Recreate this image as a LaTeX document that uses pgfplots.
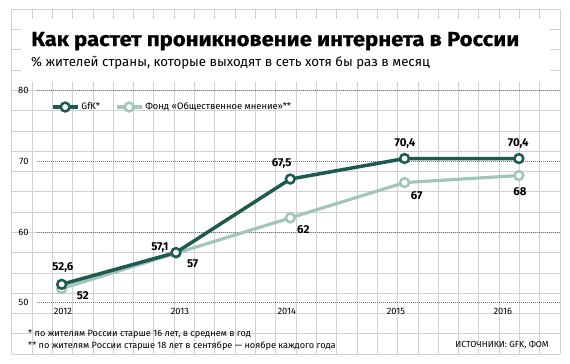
\documentclass[border=0pt]{standalone}
\usepackage{fontspec}
\setmainfont{Fira Sans}
\newfontfamily\titlefont{Fira Sans Bold}[FakeStretch=1.09, FakeBold=0.6]
\usepackage{pgfplots}
\pgfplotsset{compat=1.18}
\definecolor{dark}{HTML}{1F5A50}
\definecolor{light}{HTML}{A3C5BB}
\definecolor{gridc}{HTML}{D0D0D0}
\definecolor{dotc}{HTML}{7A7A7A}
\begin{document}
\begin{tikzpicture}[x=1bp,y=1bp]
\fill[white] (0,0) rectangle (570,363);
\useasboundingbox (0,0) rectangle (570,363);
\foreach \k in {0,...,27} {\draw[gridc, line width=0.8bp] ({11.7+\k*20.311},9) -- ({11.7+\k*20.311},353.7);}
\foreach \k in {0,...,17} {\draw[gridc, line width=0.8bp] (11.7,{9+\k*20.276}) -- (560,{9+\k*20.276});}
\fill[white] (20.7,281.3) rectangle (550,343.7);
\node[anchor=base west, inner sep=0, font=\fontsize{20.3}{24}\titlefont] at (31,317) {Как растет проникновение интернета в России};
\node[anchor=base west, inner sep=0, font=\fontsize{13.3}{15}\selectfont] at (31,296.3) {\% жителей страны, которые выходят в сеть хотя бы раз в месяц};
\begin{axis}[
  at={(37bp,60.3bp)}, anchor=south west, scale only axis,
  width=523bp, height=212bp,
  xmin=2011.784, xmax=2016.360, ymin=50, ymax=80,
  axis line style={draw=none}, tick style={draw=none},
  xtick={2012.01,2013.035,2013.97,2014.925,2015.86},
  xticklabels={2012,2013,2014,2015,2016},
  ytick={50,60,70,80},
  ymajorgrids,
  grid style={dotc, line width=0.8bp, dash pattern=on 0.8bp off 1.2bp},
  tick label style={font=\fontsize{9.3}{10}\selectfont},
  /pgf/number format/assume math mode=true,
  yticklabel style={xshift=-5bp},
  xticklabel style={yshift=-2bp},
  clip=false,
  reverse legend,
  legend columns=2,
  legend cell align=left,
  legend style={at={(axis cs:2011.904,77.69)}, anchor=west, draw=none, fill=none, inner sep=0pt,
    font=\fontsize{9.4}{10}\selectfont,
    /tikz/every even column/.append style={column sep=13bp}},
  legend image code/.code={\draw[mark repeat=2,mark phase=2,#1] plot coordinates {(0bp,0bp) (12.5bp,0bp) (25bp,0bp)};},
]
\addplot[light, line width=3.2bp, mark=*, mark size=4.4bp, mark options={fill=white, draw=light, line width=2.5bp}]
  coordinates {(2012,52) (2013,57) (2014,62) (2015,67) (2016,68)};
\addlegendentry{Фонд «Общественное мнение»**}
\addplot[dark, line width=3.5bp, mark=*, mark size=4.4bp, mark options={fill=white, draw=dark, line width=2.5bp}]
  coordinates {(2012,52.6) (2013,57.1) (2014,67.5) (2015,70.4) (2016,70.4)};
\addlegendentry{GfK*}
\begin{scope}[every node/.style={font=\fontsize{11.5}{13}\selectfont\bfseries, inner sep=0}]
\node at (axis cs:2012.011,54.95) {52,6};
\node at (axis cs:2012.186,50.99) {52};
\node at (axis cs:2012.86,57.74) {57,1};
\node at (axis cs:2013.146,55.48) {57};
\node at (axis cs:2013.925,69.63) {67,5};
\node at (axis cs:2014.114,60.39) {62};
\node at (axis cs:2015.003,72.56) {70,4};
\node at (axis cs:2015.106,65.10) {67};
\node at (axis cs:2015.995,72.56) {70,4};
\node at (axis cs:2016.01,65.71) {68};
\end{scope}
\end{axis}
\node[anchor=base west, inner sep=0, font=\fontsize{9.2}{10}\selectfont] at (28,27) {* по жителям России старше 16 лет, в среднем в год};
\node[anchor=base west, inner sep=0, font=\fontsize{9.2}{10}\selectfont] at (28,14.5) {** по жителям России старше 18 лет в сентябре~--- ноябре каждого года};
\node[anchor=base east, inner sep=0, font=\fontsize{8.8}{10}\selectfont] at (549,15.7) {ИСТОЧНИКИ: GFK, ФОМ};
\end{tikzpicture}
\end{document}
